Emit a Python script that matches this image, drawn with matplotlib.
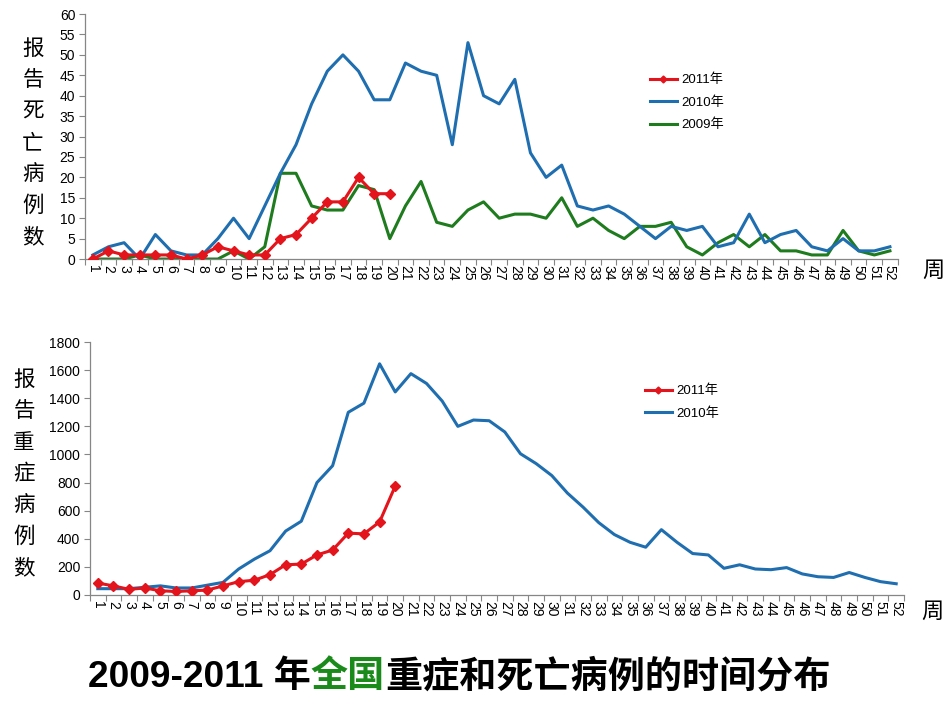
import numpy as np
import matplotlib
matplotlib.use("Agg")
import matplotlib.pyplot as plt

plt.rcParams['font.family'] = ['Liberation Sans', 'Noto Sans CJK SC', 'DejaVu Sans']

weeks = list(range(1, 53))

# 报告死亡病例数
death_2011 = [0, 2, 1, 1, 1, 1, 0, 1, 3, 2, 1, 1, 5, 6, 10, 14, 14, 20, 16, 16]
death_2010 = [1, 3, 4, 0, 6, 2, 1, 1, 5, 10, 5, 13, 21, 28, 38, 46, 50, 46, 39, 39,
              48, 46, 45, 28, 53, 40, 38, 44, 26, 20, 23, 13, 12, 13, 11, 8, 5, 8, 7, 8,
              3, 4, 11, 4, 6, 7, 3, 2, 5, 2, 2, 3]
death_2009 = [0, 0, 0, 1, 0, 0, 0, 0, 0, 2, 0, 3, 21, 21, 13, 12, 12, 18, 17, 5,
              13, 19, 9, 8, 12, 14, 10, 11, 11, 10, 15, 8, 10, 7, 5, 8, 8, 9, 3, 1,
              4, 6, 3, 6, 2, 2, 1, 1, 7, 2, 1, 2]

# 报告重症病例数
severe_2011 = [85, 65, 40, 50, 30, 25, 30, 35, 65, 95, 105, 145, 215, 220, 285, 320, 440, 435, 520, 775]
severe_2010 = [45, 45, 45, 55, 65, 50, 50, 70, 90, 185, 255, 315, 455, 525, 800, 920, 1300, 1365, 1645, 1445,
               1575, 1505, 1380, 1200, 1245, 1240, 1160, 1005, 935, 850, 725, 625, 515, 430, 375, 340, 465, 375, 295, 285,
               190, 215, 185, 180, 195, 150, 130, 125, 160, 125, 95, 80]

RED = '#e3141b'
BLUE = '#1f6eb0'
GREEN = '#1e7b1e'
GREY = '#868686'


def style_axis(ax, ymax, ystep):
    ax.set_xlim(0.5, 52.5)
    ax.set_ylim(0, ymax)
    ax.set_yticks(np.arange(0, ymax + 1, ystep))
    ax.set_xticks(weeks)
    ax.set_xticklabels([str(w) for w in weeks], rotation=270, fontsize=10)
    ax.set_xticks(np.arange(0.5, 53, 1), minor=True)
    ax.tick_params(axis='x', which='major', length=0, pad=4)
    ax.tick_params(axis='x', which='minor', length=4, color=GREY, width=0.8)
    ax.tick_params(axis='y', length=4, color=GREY, width=0.8, labelsize=10, pad=3)
    for s in ['top', 'right']:
        ax.spines[s].set_visible(False)
    for s in ['left', 'bottom']:
        ax.spines[s].set_color(GREY)
        ax.spines[s].set_linewidth(0.9)


fig = plt.figure(figsize=(9.5, 7.13), dpi=100)

# top chart
ax1 = fig.add_axes([0.0895, 0.6367, 0.8555, 0.3436])
ax1.plot(weeks[:len(death_2011)], death_2011, color=RED, lw=2.2, marker='D', ms=5, label='2011年', zorder=4)
ax1.plot(weeks, death_2010, color=BLUE, lw=2.2, label='2010年', zorder=3)
ax1.plot(weeks, death_2009, color=GREEN, lw=2.2, label='2009年', zorder=2)
style_axis(ax1, 60, 5)
leg1 = ax1.legend(loc='upper left', bbox_to_anchor=(643 / 950, 1 - 67 / 713),
                  bbox_transform=fig.transFigure, frameon=False, fontsize=9.5,
                  handlelength=2.1, handletextpad=0.3, labelspacing=0.75, borderpad=0,
                  markerscale=0.7)

# bottom chart
ax2 = fig.add_axes([0.0947, 0.1655, 0.8569, 0.3548])
ax2.plot(weeks[:len(severe_2011)], severe_2011, color=RED, lw=2.2, marker='D', ms=5, label='2011年', zorder=4)
ax2.plot(weeks, severe_2010, color=BLUE, lw=2.2, label='2010年', zorder=3)
style_axis(ax2, 1800, 200)
leg2 = ax2.legend(loc='upper left', bbox_to_anchor=(638 / 950, 1 - 378 / 713),
                  bbox_transform=fig.transFigure, frameon=False, fontsize=9.5,
                  handlelength=2.1, handletextpad=0.3, labelspacing=0.75, borderpad=0,
                  markerscale=0.7)

# vertical y labels
fig.text(33 / 950, 1 - 143 / 713, '\n'.join('报告死亡病例数'), ha='center', va='center',
         fontsize=15.5, linespacing=1.55, family=['Noto Sans CJK SC'])
fig.text(24 / 950, 1 - 474 / 713, '\n'.join('报告重症病例数'), ha='center', va='center',
         fontsize=15.5, linespacing=1.55, family=['Noto Sans CJK SC'])
fig.text(933 / 950, 1 - 270 / 713, '周', ha='center', va='center', fontsize=16,
         family=['Noto Sans CJK SC'])
fig.text(932 / 950, 1 - 611 / 713, '周', ha='center', va='center', fontsize=16,
         family=['Noto Sans CJK SC'])

# title in three coloured parts
parts = [('2009-2011 年', 'black'), ('全国', '#1a8a1a'), ('重症和死亡病例的时间分布', 'black')]
fig.canvas.draw()
renderer = fig.canvas.get_renderer()
x = 88 / 950
for txt, col in parts:
    t = fig.text(x, 1 - 678 / 713, txt, ha='left', va='center', fontsize=26.7,
                 fontweight='bold', color=col)
    bb = t.get_window_extent(renderer=renderer)
    x += bb.width / fig.bbox.width

fig.savefig('out.png', dpi=100)
